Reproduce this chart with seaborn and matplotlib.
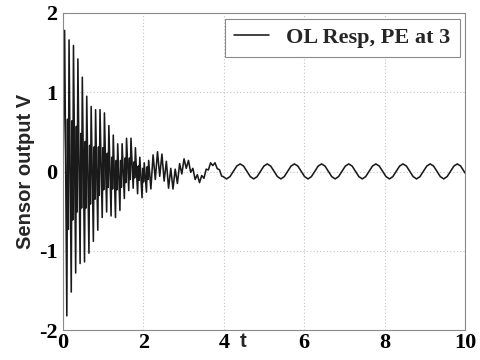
import numpy as np
import pandas as pd
import matplotlib
matplotlib.use("Agg")
import matplotlib.pyplot as plt
import seaborn as sns

# --- sensor record: open-loop response with the PE switched in at t = 3 ---

# record starts at rest
start_t = [0.0]
start_v = [0.0]

# main crests of the fast decaying oscillation
crest_t = [0.04, 0.15, 0.26, 0.37, 0.48, 0.59, 0.70, 0.81, 0.92, 1.03,
           1.14, 1.25, 1.36, 1.47, 1.58, 1.69, 1.80, 1.91, 2.02, 2.13]
crest_v = [1.78, 1.66, 1.59, 1.42, 1.19, 0.95, 0.82, 0.78, 0.78, 0.74,
           0.58, 0.46, 0.35, 0.35, 0.42, 0.42, 0.30, 0.18, 0.11, 0.14]

# main troughs of the fast decaying oscillation
trough_t = [0.095, 0.205, 0.315, 0.425, 0.535, 0.645, 0.755, 0.865, 0.975, 1.085,
            1.195, 1.305, 1.415, 1.525, 1.635, 1.745, 1.855, 1.965, 2.075]
trough_v = [-1.82, -1.52, -1.28, -1.16, -1.14, -1.03, -0.88, -0.74, -0.58, -0.51,
            -0.56, -0.58, -0.49, -0.34, -0.24, -0.21, -0.28, -0.33, -0.26]

# smaller inner swings between a trough and the next crest
inner_hi_t = [0.113, 0.223, 0.333, 0.443, 0.553, 0.663, 0.773, 0.883, 0.993, 1.103,
              1.213, 1.323, 1.433, 1.543, 1.653, 1.763, 1.873, 1.983, 2.093]
inner_hi_v = [0.66, 0.64, 0.57, 0.48, 0.38, 0.33, 0.31, 0.31, 0.30, 0.23,
              0.18, 0.14, 0.14, 0.17, 0.17, 0.12, 0.07, 0.04, 0.06]
inner_lo_t = [0.132, 0.242, 0.352, 0.462, 0.572, 0.682, 0.792, 0.902, 1.012, 1.122,
              1.232, 1.342, 1.452, 1.562, 1.672, 1.782, 1.892, 2.002, 2.112]
inner_lo_v = [-0.73, -0.61, -0.51, -0.46, -0.46, -0.41, -0.35, -0.30, -0.23, -0.20,
              -0.22, -0.23, -0.20, -0.14, -0.10, -0.08, -0.11, -0.13, -0.10]

# the fast component fades out on top of the slow swing
tail_t = [2.185, 2.24, 2.295, 2.35, 2.405, 2.46, 2.515, 2.57, 2.625, 2.68,
          2.735, 2.79, 2.845, 2.90, 2.955, 3.01, 3.065, 3.12, 3.175, 3.23,
          3.285, 3.34, 3.395, 3.45, 3.505, 3.56, 3.615, 3.67, 3.725, 3.78,
          3.835, 3.89, 3.945]
tail_v = [-0.22, 0.21, -0.10, 0.25, -0.06, 0.22, -0.12, 0.13, -0.21, 0.04,
          -0.22, 0.03, -0.15, 0.10, -0.03, 0.16, 0.04, 0.14, -0.01, 0.04,
          -0.10, -0.04, -0.14, -0.05, -0.085, 0.03, 0.02, 0.11, 0.075, 0.11,
          0.036, 0.023, -0.057]

# steady slow oscillation that remains
steady_t = [3.983, 4.068, 4.152, 4.236, 4.321, 4.405, 4.490, 4.574,
            4.658, 4.743, 4.827, 4.911, 4.996, 5.080, 5.165, 5.249,
            5.333, 5.418, 5.502, 5.586, 5.671, 5.755, 5.840, 5.924,
            6.008, 6.093, 6.177, 6.261, 6.346, 6.430, 6.515, 6.599,
            6.683, 6.768, 6.852, 6.936, 7.021, 7.105, 7.190, 7.274,
            7.358, 7.443, 7.527, 7.611, 7.696, 7.780, 7.865, 7.949,
            8.033, 8.118, 8.202, 8.286, 8.371, 8.455, 8.540, 8.624,
            8.708, 8.793, 8.877, 8.961, 9.046, 9.130, 9.215, 9.299,
            9.383, 9.468, 9.552, 9.636, 9.721, 9.805, 9.890, 9.974, 10.0]
steady_v = [-0.064, -0.093, -0.064, 0.002, 0.069, 0.096, 0.069, 0.002,
            -0.064, -0.093, -0.064, 0.002, 0.069, 0.096, 0.069, 0.002,
            -0.064, -0.093, -0.064, 0.002, 0.069, 0.096, 0.069, 0.002,
            -0.064, -0.093, -0.064, 0.002, 0.069, 0.096, 0.069, 0.002,
            -0.064, -0.093, -0.064, 0.002, 0.069, 0.096, 0.069, 0.002,
            -0.064, -0.093, -0.064, 0.002, 0.069, 0.096, 0.069, 0.002,
            -0.064, -0.093, -0.064, 0.002, 0.069, 0.096, 0.069, 0.002,
            -0.064, -0.093, -0.064, 0.002, 0.069, 0.096, 0.069, 0.002,
            -0.064, -0.093, -0.064, 0.002, 0.069, 0.096, 0.069, 0.002, -0.02]

x_ticks = [0, 2, 4, 6, 8, 10]
y_ticks = [-2, -1, 0, 1, 2]
legend_label = "OL Resp, PE at 3"

# assemble the record in time order
record = pd.DataFrame({
    "t": start_t + crest_t + trough_t + inner_hi_t + inner_lo_t + tail_t + steady_t,
    "v": start_v + crest_v + trough_v + inner_hi_v + inner_lo_v + tail_v + steady_v,
}).sort_values("t").reset_index(drop=True)

sns.set_theme(style="white")
plt.rcParams["font.family"] = ["Liberation Serif", "DejaVu Serif"]

fig = plt.figure(figsize=(4.81, 3.60), dpi=100)
ax = fig.add_axes([0.131, 0.083, 0.836, 0.881])

sns.lineplot(data=record, x="t", y="v", sort=False, estimator=None,
             color="#1a1a1a", linewidth=1.15, label=legend_label, ax=ax)

ax.set_xlim(0, 10)
ax.set_ylim(-2, 2)
ax.set_xticks(x_ticks)
ax.set_yticks(y_ticks)
ax.set_xticklabels([str(v) for v in x_ticks])
ax.set_yticklabels([str(v) for v in y_ticks])
ax.grid(True, linestyle=(0, (1, 2)), color="#c4c4c4", linewidth=0.8)
ax.set_axisbelow(True)
for sp in ax.spines.values():
    sp.set_color("#8a8a8a")
    sp.set_linewidth(0.8)

ax.tick_params(axis="both", length=0, labelsize=16, colors="black")
ax.tick_params(axis="x", pad=2)
ax.tick_params(axis="y", pad=4)
for lab in ax.get_xticklabels() + ax.get_yticklabels():
    lab.set_fontweight("bold")

label_font = dict(family=["Liberation Sans", "DejaVu Sans"], weight="bold", size=14.5)
ax.set_ylabel("Sensor output V", **label_font)
ax.yaxis.set_label_coords(-0.07, 0.5)
ax.set_xlabel("t", **label_font)
ax.xaxis.set_label_coords(0.448, -0.005)

leg = ax.legend(loc="upper right", fancybox=False, framealpha=1,
                edgecolor="#8a8a8a", handlelength=1.55, borderaxespad=0.25,
                prop=dict(family=["Liberation Serif", "DejaVu Serif"],
                          weight="bold", size=16))
leg.get_frame().set_linewidth(0.8)

fig.savefig("out.png", dpi=100)
